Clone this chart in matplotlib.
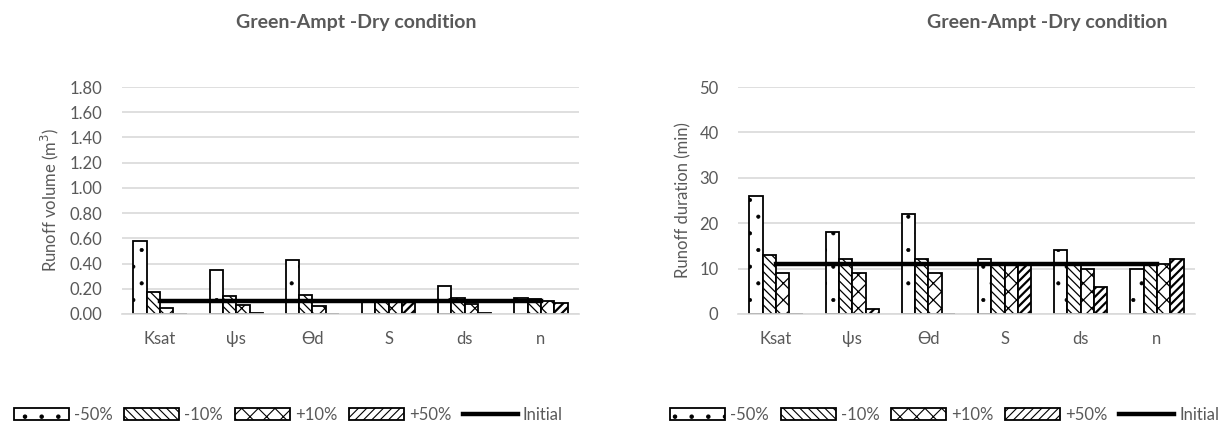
import numpy as np
import matplotlib
matplotlib.use('Agg')
import matplotlib.pyplot as plt
from matplotlib.patches import Patch
from matplotlib.lines import Line2D

plt.rcParams['font.family'] = ['Lato', 'DejaVu Sans']
plt.rcParams['hatch.linewidth'] = 0.8

# parameters and variation levels
parameters = ['Ksat', 'ψs', 'Ɵd', 'S', 'ds', 'n']
levels = ['-50%', '-10%', '+10%', '+50%']

# runoff volume (m3) per level
volume_m50 = [0.58, 0.345, 0.43, 0.10, 0.22, 0.125]
volume_m10 = [0.17, 0.14, 0.15, 0.10, 0.125, 0.115]
volume_p10 = [0.045, 0.07, 0.06, 0.10, 0.08, 0.10]
volume_p50 = [0.0, 0.005, 0.0, 0.10, 0.01, 0.085]
volume_initial = [0.10] * 6

# runoff duration (min) per level
duration_m50 = [26, 18, 22, 12, 14, 10]
duration_m10 = [13, 12, 12, 11, 11, 11]
duration_p10 = [9, 9, 9, 11, 10, 11]
duration_p50 = [0, 1, 0, 11, 6, 12]
duration_initial = [11] * 6

hatches = ['.', '\\\\\\\\', 'xx', '////']
hatch_widths = [0.5, 0.9, 0.9, 1.6]
grey = '#595959'


def draw_panel(ax, series, initial, ylim, yticks, fmt, ylabel):
    x = np.arange(len(parameters))
    w = 0.175
    for i, vals in enumerate(series):
        bars = ax.bar(x + (i - 1.5) * w, vals, w, color='white', edgecolor='black',
                      linewidth=1.3, hatch=hatches[i], zorder=2)
        for b in bars:
            b.set_hatch_linewidth(hatch_widths[i])
    ax.plot(x, initial, color='black', linewidth=3.2, zorder=3)
    ax.set_xlim(-0.5, len(parameters) - 0.5)
    ax.set_ylim(*ylim)
    ax.set_yticks(yticks)
    ax.set_yticklabels([fmt.format(t) for t in yticks])
    ax.set_xticks(x)
    ax.set_xticklabels(parameters)
    ax.yaxis.grid(True, color='#d9d9d9', linewidth=1.2, zorder=0)
    ax.set_axisbelow(True)
    for s in ['top', 'right', 'left']:
        ax.spines[s].set_visible(False)
    ax.spines['bottom'].set_color('#d9d9d9')
    ax.spines['bottom'].set_linewidth(1.2)
    ax.tick_params(length=0, labelsize=12, colors=grey)
    ax.tick_params(axis='y', pad=14)
    ax.tick_params(axis='x', pad=12)
    ax.set_ylabel(ylabel, fontsize=12, color=grey, labelpad=6)


fig = plt.figure(figsize=(12.32, 4.33), dpi=100)
ax1 = fig.add_axes([0.099, 0.275, 0.371, 0.524])
ax2 = fig.add_axes([0.599, 0.275, 0.371, 0.524])

draw_panel(ax1, [volume_m50, volume_m10, volume_p10, volume_p50], volume_initial,
           (0, 1.8), np.arange(0, 1.81, 0.2), '{:.2f}', 'Runoff volume (m$^3$)')
draw_panel(ax2, [duration_m50, duration_m10, duration_p10, duration_p50], duration_initial,
           (0, 50), np.arange(0, 51, 10), '{:.0f}', 'Runoff duration (min)')

fig.text(0.289, 0.947, 'Green-Ampt -Dry condition', ha='center', va='center',
         fontsize=14, fontweight='bold', color=grey)
fig.text(0.850, 0.947, 'Green-Ampt -Dry condition', ha='center', va='center',
         fontsize=14, fontweight='bold', color=grey)

handles = []
for h, hw in zip(hatches, hatch_widths):
    p = Patch(facecolor='white', edgecolor='black', linewidth=1.3, hatch=h)
    p.set_hatch_linewidth(hw)
    handles.append(p)
handles.append(Line2D([], [], color='black', linewidth=3.2))
labels = levels + ['Initial']

for cx in [0.234, 0.767]:
    fig.legend(handles, labels, loc='center', bbox_to_anchor=(cx, 0.042), ncol=5,
               frameon=False, fontsize=12, handlelength=3.3, handleheight=0.7,
               handletextpad=0.3, columnspacing=0.7, labelcolor=grey)

fig.savefig('out.png', dpi=100)
